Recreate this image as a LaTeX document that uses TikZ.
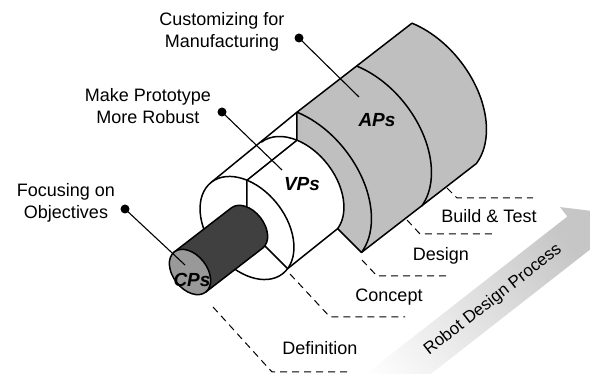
\documentclass[tikz,border=0pt]{standalone}
\usepackage{fontspec}
\setmainfont{Liberation Sans}
\usetikzlibrary{calc}

\tikzset{
  rim/.style={line width=1.5pt, line join=round},
  lead/.style={line width=1.1pt},
  phase/.style={line width=1pt, dash pattern=on 7pt off 5pt},
  lbl/.style={font=\fontsize{18}{22}\selectfont, align=center},
  tag/.style={font=\fontsize{19}{22}\selectfont\bfseries\itshape},
}

\begin{document}
\begin{tikzpicture}[x=1pt, y=1pt]
\useasboundingbox (0,0) rectangle (590,374);
\clip (0,0) rectangle (590,374);

% end faces along the axis: name / centre / radius
\foreach \nm/\px/\py/\rr in {cpf/190/102/25.5, cpb/247/146/25.5, vpf/247/146/58, vpb/297/186/58, apf/297/186/92, apm/357/232/92, apb/412/275/92}{
  \begin{scope}[shift={(\px,\py)}, rotate=38]
    \coordinate (\nm) at (0,0);
    \coordinate (\nm-t) at (90:{0.667*\rr} and \rr);
    \coordinate (\nm-d) at (-90:{0.667*\rr} and \rr);
    \coordinate (\nm-u) at (40.5:{0.667*\rr} and \rr);
    \coordinate (\nm-c) at (-79.6:{0.667*\rr} and \rr);
  \end{scope}
}

% process arrow
\begin{scope}[shift={(493,74)}, rotate=38]
  \coordinate (ar1) at (-175,-20);
  \coordinate (ar2) at (110,-20);
  \coordinate (ar3) at (110,-32);
  \coordinate (ar4) at (142,0);
  \coordinate (ar5) at (110,32);
  \coordinate (ar6) at (110,20);
  \coordinate (ar7) at (-175,20);
\end{scope}
\shade[bottom color=white, top color=gray!45, shading angle=-52]
  (ar1) -- (ar2) -- (ar3) -- (ar4) -- (ar5) -- (ar6) -- (ar7) -- cycle;
\node[rotate=38, font=\fontsize{17}{20}\selectfont] (proc) at (493,74) {Robot Design Process};

% APs shell
\begin{scope}[rotate=38]
  \filldraw[rim, fill=gray!50] (apf-u) -- (apb-u)
    arc[start angle=40.5, end angle=-79.6, x radius=61.4, y radius=92] -- (apf-c) -- (vpb-c)
    arc[start angle=-79.6, end angle=40.5, x radius=38.7, y radius=58] -- cycle;
  \draw[rim] (apf-u) arc[start angle=40.5, end angle=-79.6, x radius=61.4, y radius=92];
  \draw[rim] (apm-u) arc[start angle=40.5, end angle=-79.6, x radius=61.4, y radius=92];
  % VPs
  \draw[rim] (vpb-t) arc[start angle=90, end angle=40.5, x radius=38.7, y radius=58];
  \draw[rim] (vpf-t) -- (apf-u);
  \draw[rim] (vpf-u) -- (vpb-u);
  \draw[rim] (vpf-c) -- (vpb-c);
  \filldraw[rim, fill=white] (vpf) circle[x radius=38.7, y radius=58];
  \draw[rim] (vpf-u) -- (vpf) -- (vpf-c);
  % CPs
  \filldraw[rim, fill=black!75] (cpf-t) -- (cpb-t)
    arc[start angle=90, end angle=-90, x radius=17, y radius=25.5] -- (cpf-d) -- cycle;
  \filldraw[rim, fill=black!40] (cpf) circle[x radius=17, y radius=25.5];
\end{scope}

\node[tag] (ap) at (377,254) {APs};
\node[tag] (vp) at (302,190) {VPs};
\node[tag] (cp) at (192,94) {CPs};

% goals
\node[lbl] (custom) at (222,342) {Customizing for\\Manufacturing};
\node[lbl] (robust) at (148,268) {Make Prototype\\More Robust};
\node[lbl] (focus) at (66,171) {Focusing on\\Objectives};
\coordinate (custom-dot) at (299,336);
\coordinate (custom-end) at (359,277);
\coordinate (robust-dot) at (222,262);
\coordinate (robust-end) at (282,204);
\coordinate (focus-dot) at (125,165);
\coordinate (focus-end) at (185,109);
\foreach \g in {custom, robust, focus}{
  \draw[lead] (\g-dot) -- (\g-end);
  \fill (\g-dot) circle (4.5);
}

% phases
\foreach \sx/\sy/\kx/\ky/\ex in {213/67/272/2/348, 290/100/330/57/405, 362/114/377/98/450, 407/154/420/140/495, 447/186/457/176/533}
  \draw[phase] (\sx,\sy) -- (\kx,\ky) -- (\ex,\ky);
\node[lbl] (def) at (320,26) {Definition};
\node[lbl] (con) at (389,77) {Concept};
\node[lbl] (des) at (441,118) {Design};
\node[lbl] (bt) at (489,158) {Build \& Test};
\end{tikzpicture}
\end{document}
